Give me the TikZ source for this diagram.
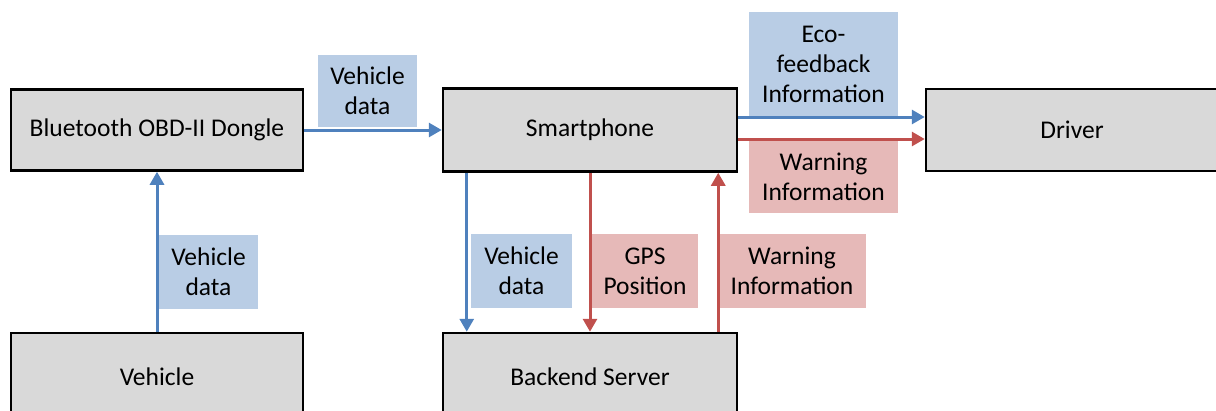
\documentclass[tikz,border=0pt]{standalone}
\usepackage{fontspec}
\setmainfont{Carlito}
\usetikzlibrary{arrows.meta}
\definecolor{boxgray}{HTML}{D9D9D9}
\definecolor{arrblue}{HTML}{4F81BD}
\definecolor{arrred}{HTML}{C0504D}
\definecolor{lblblue}{HTML}{B9CDE5}
\definecolor{lblred}{HTML}{E6B9B8}
\begin{document}
\begin{tikzpicture}[x=1pt,y=-1pt,
  every node/.style={font=\fontsize{25.5}{30}\selectfont, align=center, inner sep=0pt},
  box/.style={draw=black, line width=2.5pt, fill=boxgray, minimum width=#1},
  box/.default=292pt,
  lblb/.style={fill=lblblue, minimum width=#1},
  lblr/.style={fill=lblred, minimum width=#1},
  barr/.style={draw=arrblue, line width=3pt, -{Triangle[length=13pt,width=14pt]}},
  rarr/.style={draw=arrred, line width=3pt, -{Triangle[length=13pt,width=14pt]}}
]
\useasboundingbox (0,0) rectangle (1216,410);
\clip (0,0) rectangle (1216,410);
% boxes
\node[box=292pt, minimum height=81pt] (bt) at (157,130) {Bluetooth OBD-II Dongle};
\node[box=294pt, minimum height=83pt] (sp) at (590,130) {Smartphone};
\node[box=292pt, minimum height=82pt] (drv) at (1072,130) {Driver};
\node[box=292pt, minimum height=88pt] (veh) at (157,377) {Vehicle};
\node[box=294pt, minimum height=88pt] (be) at (590,377) {Backend Server};
% labels
\node[lblb=99pt, minimum height=72pt] (l1) at (367.5,91) {Vehicle\\data};
\node[lblb=149pt, minimum height=105pt] (l2) at (823.5,64.5) {Eco-\\feedback\\Information};
\node[lblr=149pt, minimum height=73pt] (l3) at (823.5,176.5) {Warning\\Information};
\node[lblb=99pt, minimum height=74pt] (l4) at (208.5,272) {Vehicle\\data};
\node[lblb=101pt, minimum height=74pt] (l5) at (521.5,271) {Vehicle\\data};
\node[lblr=106pt, minimum height=74pt] (l6) at (645,271) {GPS\\Position};
\node[lblr=148pt, minimum height=74pt] (l7) at (792,271) {Warning\\Information};
% arrows
\draw[barr] (veh.north) -- (bt.south);
\draw[barr] (bt.east) -- (sp.west);
\draw[barr] ([yshift=13pt]sp.east) -- ([yshift=13pt]drv.west);
\draw[rarr] ([yshift=-9pt]sp.east) -- ([yshift=-9pt]drv.west);
\draw[barr] ([xshift=25pt]sp.south west) -- ([xshift=25pt]be.north west);
\draw[rarr] (sp.south) -- (be.north);
\draw[rarr] ([xshift=-20pt]be.north east) -- ([xshift=-20pt]sp.south east);
\end{tikzpicture}
\end{document}
